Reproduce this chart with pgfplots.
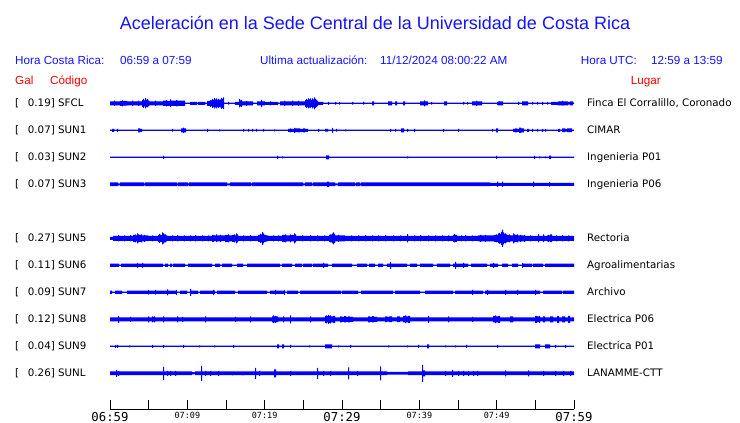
\documentclass[border=0pt]{standalone}
\usepackage{pgfplots}
\pgfplotsset{compat=1.18}
\usepackage{pgfplotstable}
\usepgfplotslibrary{fillbetween}
\usepackage{fontspec}
\setmainfont{Liberation Sans}
\newfontfamily\dv{DejaVu Sans}
\newfontfamily\dvm{DejaVu Sans Mono}
\definecolor{tb}{RGB}{0,0,255}
\definecolor{hb}{RGB}{20,20,255}
\definecolor{hr}{RGB}{255,0,0}

% x = offset in px from 06:59 (0) to 07:59 (464); a = half amplitude in px
\pgfplotstableread{
x a
0 2
4 2.6
5 2
10 2.5
12 3
13 2.3
17 2
22 2.6
23 2
28 2.6
29 2
32 3.5
33 4.5
34 3
35 5.2
36 3.5
37 4.2
38 2.8
39 2
45 2.6
46 2
53 2.7
56 3.2
57 2.5
60 3.8
61 2.7
66 3.2
67 2.6
75 0.6
80 1.5
87 0.6
88 1.5
95 0.6
97 2.5
100 3.5
101 2.8
102 4.5
103 3.5
104 5.2
105 4
106 5
107 3.5
108 4.5
109 3.5
110 4
111 5.5
112 4.5
113 5.8
114 0.6
118 1.3
119 0.6
125 1.5
129 4.2
130 3
131 3.5
132 2
136 2.5
137 2
143 0.6
147 2
151 3.5
152 2
155 1.5
160 2
161 1.5
168 0.6
170 2
174 2.5
175 2
177 2
182 2.6
183 2
188 2.5
189 2
195 3.5
196 4.5
197 3.5
198 5
199 4
200 4.8
201 3.5
202 5
203 4
204 6
205 4.5
206 3.5
207 2.5
208 1.5
213 0.6
218 1.5
219 0.6
225 1.3
226 0.6
229 1.3
230 0.6
242 1.3
243 0.6
253 1.3
254 0.6
262 2
264 0.6
278 2
282 0.6
285 2
287 0.6
293 2
295 0.6
310 2
314 3
315 2
318 0.6
321 1.3
322 0.6
334 2
337 0.6
353 1.3
354 0.6
357 1.3
358 0.6
362 2
366 2.5
367 2
372 0.6
387 1.5
388 2
393 0.6
408 1.5
409 0.6
412 2
418 0.6
422 1.3
423 0.6
427 1.3
428 0.6
432 1.5
433 0.6
437 1.3
438 0.6
441 1.5
448 2
452 2.4
453 2
458 1.3
460 2
463 0.6
464 0.6
}\sfcl

\pgfplotstableread{
x a
0 0.6
2 1.5
4 0.6
7 1.5
8 0.6
28 2
30 1.5
32 0.6
62 1.3
63 0.6
71 2
73 2.7
74 2
76 0.6
97 1.5
98 0.6
109 1
110 0.6
133 1.3
134 0.6
138 1.3
139 0.6
142 1.3
143 0.6
146 1.3
147 0.6
153 1.3
154 0.6
164 1
165 0.6
178 1.5
180 2
181 1.5
184 2.5
185 1.8
188 2
190 1.5
193 2
195 1.5
198 0.6
208 1.5
209 0.6
215 1.3
218 0.6
222 2.5
223 0.6
226 1.3
227 0.6
235 1
236 0.6
280 1.5
281 0.6
285 1.3
286 0.6
291 2
294 0.6
297 1.5
298 0.6
304 1.5
305 0.6
333 1.5
334 0.6
348 1.5
349 0.6
382 1.3
383 0.6
386 2
388 0.6
403 1.5
405 2
407 1.5
409 2.7
411 2
414 0.6
417 1.5
419 0.6
422 1.5
423 0.6
427 1.3
428 0.6
432 1.5
433 0.6
435 1.3
436 0.6
448 1.5
450 0.6
452 1.8
455 1.3
457 1.8
462 0.6
464 0.6
}\sunone

\pgfplotstableread{
x a
0 0.6
53 1.5
54 0.6
167 1.5
168 0.6
172 1
173 0.6
216 2
219 0.6
297 1
298 0.6
386 1.5
387 0.6
424 1.5
425 0.6
429 1
430 0.6
435 1
436 0.6
439 1.7
441 0.6
464 0.6
}\suntwo

\pgfplotstableread{
x a
0 1.8
8 1
10 1.8
34 1
35 1.8
67 1
68 1.8
78 1
79 1.8
117 1
120 1.8
141 1
142 1.8
193 1
195 1.8
202 1
203 1.8
217 2.7
219 1.8
225 1
228 1.8
245 1
246 1.8
250 1
251 1.8
380 1.5
387 2.7
388 1.5
392 2.7
393 1.5
423 2.7
424 1.5
439 2.3
440 1.5
464 1.5
}\sunthree

\pgfplotstableread{
x a
0 1.5
3 2.5
8 3.2
9 2.5
14 3
15 2.5
20 3.2
21 2.5
23 3.5
25 4
26 3
27 5
28 4
29 3.5
31 4
32 3
34 3.5
35 2.8
38 2.5
42 3
43 2.5
48 3.5
49 4.5
50 3.5
52 6
53 5
54 4
56 3
57 2.5
62 3
63 2.5
67 3.2
68 2.5
74 3
75 2.5
80 3
81 2.5
85 3.2
86 2.5
92 3
93 2.5
98 3
99 2.5
102 3.5
104 2.8
106 3.8
107 3
110 3.5
111 2.8
115 3.5
118 4
119 3
122 3.5
124 4
125 3
126 5
127 4
128 2.5
133 3
134 2.5
140 3.2
141 2.5
148 3.5
150 4.5
151 4
152 6.5
153 5
154 3.5
156 3
158 2.5
163 3
164 2.5
168 3
169 2.5
172 3.5
175 4
176 3
180 4
181 3.2
184 5
185 4
186 2.5
192 3
193 2.5
200 3.2
201 2.5
207 3
208 2.5
214 3
215 2.5
219 3.5
220 4
222 5
223 6
224 4.5
225 3
228 3.5
229 3
235 2.5
241 3
242 2.5
248 3
249 2.5
255 3.2
256 2.5
262 3
263 2.5
268 3
269 2.5
275 3.2
276 2.5
283 3
284 2.5
290 3
291 2.5
297 4.2
298 2.5
304 3
305 2.5
310 3.2
311 2.5
318 3
319 2.5
325 3
326 2.5
332 3
333 2.5
338 3
339 2.5
343 3.5
344 4.2
345 3.5
347 2.5
351 3
352 2.5
355 3.2
356 2.5
362 3
363 2.5
368 3
370 3.5
371 3
375 3.5
376 3
380 3
384 3.5
386 4
387 3.5
388 4.8
389 5.5
390 4.5
391 6.5
392 8.7
393 6
394 4.5
395 5
396 4
397 3.5
399 4
400 3
403 5
404 4
405 3.5
407 4
408 3
410 3.5
411 3
414 3.5
415 2.5
420 3
421 2.5
428 4.2
429 2.5
433 3.8
434 2.5
437 3
438 3.5
439 3
440 3.8
442 2.5
446 3
447 2.5
452 3.2
453 2.5
458 3
459 2.5
464 2.5
}\sunfive

\pgfplotstableread{
x a
0 1.7
9 0.6
11 1.7
27 2.5
28 1.7
32 2.5
33 1.7
53 0.6
55 1.7
58 0.6
60 1.7
62 0.6
63 1.7
75 0.6
78 1.7
102 0.6
105 1.7
110 0.6
112 1.7
122 0.6
127 1.7
133 0.6
137 1.7
170 0.6
172 1.7
182 0.6
185 1.7
192 0.6
193 1.7
202 0.6
203 1.7
213 2.5
214 1.7
218 0.6
222 1.7
242 0.6
247 1.7
257 0.6
259 1.7
265 0.6
268 1.7
273 0.6
277 1.7
280 3.5
281 1.7
297 0.6
300 1.7
307 0.6
310 1.7
323 0.6
327 1.7
340 0.6
343 1.7
345 3.5
346 1.7
353 2.5
354 1.7
358 0.6
361 1.7
377 0.6
380 1.7
383 2.5
384 1.7
388 0.6
392 1.7
398 0.6
402 1.7
408 0.6
412 2.5
413 1.7
422 0.6
423 1.7
433 0.6
435 1.7
464 1.7
}\sunsix

\pgfplotstableread{
x a
0 1.7
2 0.6
5 1.7
12 0.6
17 1.7
38 2.3
39 1.7
45 2.3
46 1.7
57 3
58 1.7
66 2.5
67 0.6
70 1.7
77 0.6
80 3.5
81 1.7
88 0.6
90 1.7
103 2.5
104 1.7
105 0.6
107 1.7
125 0.6
128 1.7
157 0.6
160 1.7
165 2.3
166 1.7
174 2.5
175 0.6
177 1.7
188 0.6
190 1.7
231 0.6
232 1.7
248 0.6
251 1.7
283 0.6
285 1.7
310 0.6
315 1.7
343 0.6
345 1.7
362 2.5
363 1.7
373 0.6
375 1.7
377 2.5
378 1.7
395 2.5
396 1.7
407 2.5
408 1.7
425 2.5
426 1.7
430 0.6
433 1.7
452 0.6
453 1.7
464 1.7
}\sunseven

\pgfplotstableread{
x a
0 2
8 3.5
9 2
20 2.5
21 2
38 3
39 2
42 3
43 2.4
44 3
45 2
53 3
54 2
67 3
68 2
72 2.5
73 2
95 3
96 2
125 2.5
126 2
140 3
141 2
162 3
163 3.8
164 3
165 3.5
166 2.8
168 2
173 3
174 2
180 4
181 2
200 3
201 2
215 3.5
216 4
217 3.2
218 4.5
219 3.5
220 4
221 3
223 3.5
225 2
230 3
232 2.5
234 3.2
236 2.5
238 3
240 2.5
243 2
258 3
260 2.5
262 3.2
264 2.5
267 2
275 2.8
277 2.3
279 2.8
282 2
287 2.8
290 2
293 3.2
295 3.8
296 3
298 3.5
300 2
318 3.5
319 2
338 3
339 2
362 2.5
363 2
383 3.2
385 3.8
386 3
388 3.5
390 2
400 3
403 2
425 3.5
427 2.8
429 3.5
430 2
433 3
435 2
440 3
443 2
447 3.5
449 2
452 3
455 2
458 3.5
460 2
464 2
}\suneight

\pgfplotstableread{
x a
0 0.6
5 1.5
6 0.6
7 1.5
8 0.6
19 1
20 0.6
42 1.5
43 0.6
53 1.5
54 0.6
73 1.5
74 0.6
89 1
90 0.6
104 1
105 0.6
123 1.5
124 0.6
167 2
169 0.6
172 2
174 0.6
180 1.5
181 0.6
199 1
200 0.6
215 2
222 0.6
228 1
229 0.6
240 1.5
241 0.6
278 1
279 0.6
297 1
298 0.6
308 1.5
309 0.6
317 2
319 0.6
335 1
336 0.6
345 1
346 0.6
356 1.5
357 0.6
387 1.5
388 0.6
425 2
430 0.6
435 2
440 0.6
445 1.5
446 0.6
455 1.5
456 0.6
464 0.6
}\sunnine

\pgfplotstableread{
x a
0 1.8
6 3.5
7 1.8
8 2.5
9 1.8
53 6.5
54 1.8
57 2.5
58 1.8
60 2.5
61 1.8
65 2.5
66 1.8
82 1.2
85 1.8
91 7.5
92 1.8
95 2.5
96 1.8
100 2.5
101 1.8
108 2.5
109 1.8
122 2
123 1.8
132 2
133 1.8
145 5.5
146 1.8
149 2.5
150 1.8
164 4
166 1.8
180 2.5
181 1.8
207 5.5
208 1.8
213 2.5
214 1.8
220 2.5
221 1.8
238 6
239 1.8
247 2.5
248 1.8
270 7
271 1.8
277 1.3
298 1.8
312 8.5
313 3
315 1.8
335 2.5
336 1.8
342 3.5
343 1.8
348 2.5
349 1.8
353 2.5
354 1.8
358 2.5
359 1.8
363 2.5
364 1.8
367 2.5
368 1.8
395 3
396 1.8
418 3
419 1.8
433 2.5
434 1.8
445 2.5
446 1.8
453 2.5
454 1.8
460 2.5
461 1.8
464 1.8
}\sunl

\newcommand{\trace}[5]{%
  \addplot[draw=none, const plot, name path=u#3] table[x=x, y expr=-#2+\thisrow{a}] {#1};
  \addplot[draw=none, const plot, name path=l#3] table[x=x, y expr=-#2-\thisrow{a}] {#1};
  \addplot[fill=tb, draw=none] fill between[of=u#3 and l#3];
  \node[anchor=base west, inner sep=0pt, font=\dv\fontsize{10.3}{12}\selectfont] at (axis cs:-95,-#2-3.5) {[};
  \node[anchor=base west, inner sep=0pt, font=\dv\fontsize{10.3}{12}\selectfont] at (axis cs:-82.3,-#2-3.5) {#4};
  \node[anchor=base west, inner sep=0pt, font=\dv\fontsize{10.3}{12}\selectfont] at (axis cs:477,-#2-3.5) {#5};
}

\begin{document}
\begin{tikzpicture}
\begin{axis}[
  at={(0pt,0pt)}, anchor=south west,
  scale only axis, width=740pt, height=423pt,
  xmin=-110, xmax=630, ymin=-423, ymax=0,
  hide axis, clip=false]

\node[anchor=base, inner sep=0pt, text=hb, font=\fontsize{18}{21}\selectfont] at (axis cs:265,-29.3) {Aceleración en la Sede Central de la Universidad de Costa Rica};

\node[anchor=base west, inner sep=0pt, text=hb, font=\fontsize{11.7}{13}\selectfont] at (axis cs:-95,-65) {Hora Costa Rica:};
\node[anchor=base west, inner sep=0pt, text=hb, font=\fontsize{11.7}{13}\selectfont] at (axis cs:10,-65) {06:59 a 07:59};
\node[anchor=base west, inner sep=0pt, text=hb, font=\fontsize{11.7}{13}\selectfont] at (axis cs:150,-65) {Ultima actualización:};
\node[anchor=base west, inner sep=0pt, text=hb, font=\fontsize{11.7}{13}\selectfont] at (axis cs:270,-65) {11/12/2024 08:00:22 AM};
\node[anchor=base west, inner sep=0pt, text=hb, font=\fontsize{11.7}{13}\selectfont] at (axis cs:470.7,-65) {Hora UTC:};
\node[anchor=base west, inner sep=0pt, text=hb, font=\fontsize{11.7}{13}\selectfont] at (axis cs:541,-65) {12:59 a 13:59};

\node[anchor=base west, inner sep=0pt, text=hr, font=\fontsize{11.7}{13}\selectfont] at (axis cs:-95,-85) {Gal};
\node[anchor=base west, inner sep=0pt, text=hr, font=\fontsize{11.7}{13}\selectfont] at (axis cs:-60,-85) {Código};
\node[anchor=base west, inner sep=0pt, text=hr, font=\fontsize{11.7}{13}\selectfont] at (axis cs:520.7,-85) {Lugar};

\trace{\sfcl}{103.3}{a}{0.19] SFCL}{Finca El Corralillo, Coronado}
\trace{\sunone}{130.3}{b}{0.07] SUN1}{CIMAR}
\trace{\suntwo}{157.3}{c}{0.03] SUN2}{Ingenieria P01}
\trace{\sunthree}{184.3}{d}{0.07] SUN3}{Ingenieria P06}
\trace{\sunfive}{238.3}{e}{0.27] SUN5}{Rectoria}
\trace{\sunsix}{265.3}{f}{0.11] SUN6}{Agroalimentarias}
\trace{\sunseven}{292.3}{g}{0.09] SUN7}{Archivo}
\trace{\suneight}{319.3}{h}{0.12] SUN8}{Electrica P06}
\trace{\sunnine}{346.3}{i}{0.04] SUN9}{Electrica P01}
\trace{\sunl}{373.3}{j}{0.26] SUNL}{LANAMME-CTT}
\end{axis}

\begin{axis}[
  at={(110pt,14pt)}, anchor=south west,
  scale only axis, width=464pt, height=20pt,
  xmin=0, xmax=60, ymin=0, ymax=1,
  axis x line=bottom, axis y line=none,
  x axis line style={-, black, line width=0.8pt},
  xtick={0,5,...,60},
  xticklabels={{\dvm\fontsize{12.3}{13}\selectfont 06:59},{},{\dvm\fontsize{8.5}{9}\selectfont 07:09},{},{\dvm\fontsize{8.5}{9}\selectfont 07:19},{},{\dvm\fontsize{12.3}{13}\selectfont 07:29},{},{\dvm\fontsize{8.5}{9}\selectfont 07:39},{},{\dvm\fontsize{8.5}{9}\selectfont 07:49},{},{\dvm\fontsize{12.3}{13}\selectfont 07:59}},
  major tick length=9pt, tick align=inside,
  xtick style={black, line width=0.8pt},
  xticklabel style={anchor=north, inner sep=0pt, yshift=-2.7pt}]
\end{axis}
\pgfresetboundingbox
\path[use as bounding box] (0pt,0pt) rectangle (740pt,423pt);
\end{tikzpicture}
\end{document}
